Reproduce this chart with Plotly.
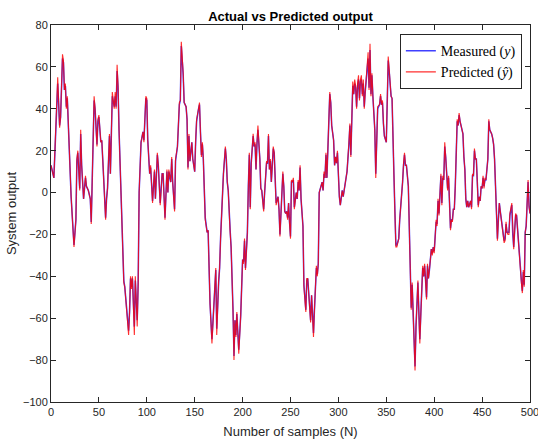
import plotly.graph_objects as go

samples = [0,3,7,9,10,12,13,14,15,16,17,19,20,21,24,26,27,28,30,31,32,34,36,37,39,41,42,45,46,48,49,50,52,53,54,56,57,58,59,61,62,64,66,67,68,69,70,71,74,76,77,79,81,82,83,84,85,87,88,90,91,92,94,96,97,99,100,101,102,103,104,106,108,109,111,112,114,116,117,119,121,122,123,125,126,127,129,130,132,134,135,136,138,139,141,142,143,144,145,147,148,150,151,152,154,155,156,157,158,159,161,163,164,165,166,168,169,170,172,173,175,176,177,179,180,182,183,184,185,187,188,190,191,192,193,194,195,196,198,199,200,201,202,203,205,206,207,208,209,211,212,213,214,215,216,218,219,220,222,223,225,226,227,228,229,230,231,232,233,234,235,237,238,239,240,241,242,243,244,245,246,247,248,249,250,251,252,253,254,256,257,258,259,260,261,263,264,266,267,268,270,271,272,274,275,277,278,279,280,282,283,284,285,286,287,288,290,291,292,293,295,296,297,298,299,300,301,302,304,305,306,307,308,309,311,312,313,314,315,316,317,318,319,320,321,322,323,324,325,326,327,328,330,331,332,333,334,335,336,338,339,340,341,343,344,345,346,347,348,350,351,352,353,355,356,357,358,359,360,361,362,363,364,366,367,368,369,370,371,373,374,375,376,377,378,379,380,381,382,383,384,385,386,388,389,390,391,392,393,394,395,396,397,398,399,400,401,402,403,404,405,406,407,408,409,410,411,412,414,415,416,417,418,419,420,421,422,423,424,425,426,427,429,430,431,432,433,434,435,436,438,439,440,441,442,443,444,445,446,447,448,449,450,451,452,453,454,456,457,458,459,460,461,462,463,464,465,466,467,468,469,470,471,472,473,474,475,476,477,478,479,481,482,483,484,485,486,487,488,489,490,491,492,493,494,495,496,497,498,499,500]

predicted = [13,7,55,31,36,66,63,49,52,40,46,18,5,-2,-26,-13,16,20,1,30,13,-3,8,3,1,-3,-15,46,40,22,35,37,24,25,16,-4,-13,-3,2,28,9,48,40,48,40,61,51,30,-13,-43,-45,-56,-68,-57,-40,-46,-40,-68,-40,-64,-43,0,24,29,24,46,45,25,13,9,13,-5,11,-3,19,13,-6,9,9,-13,11,0,11,5,17,5,-9,16,22,43,44,72,57,43,41,35,11,28,15,24,16,10,25,35,40,43,29,17,24,16,-13,-19,-18,-41,-53,-72,-59,-54,-36,-68,-42,-36,-22,1,9,22,16,5,1,-19,-26,-57,-80,-61,-69,-57,-69,-77,-59,-38,-32,-34,-22,-37,-19,3,19,-8,14,28,22,24,11,24,32,16,2,1,-9,0,15,14,28,11,16,5,16,22,19,3,-6,-2,-8,-21,-11,-2,10,3,-9,-10,-9,-13,-5,-15,-22,6,5,7,-8,0,-3,6,1,13,-3,-16,-45,-57,-41,-41,-53,-62,-49,-69,-56,-35,-40,-34,0,4,5,1,10,7,19,7,40,48,43,32,25,13,17,14,20,6,-2,-6,1,-2,1,3,7,10,24,33,17,37,53,47,54,51,40,52,56,44,54,56,46,54,40,48,62,67,49,71,46,57,46,30,7,30,41,42,47,42,44,33,27,24,41,65,59,46,45,18,8,-10,-26,-26,-23,-22,-13,-3,5,14,19,13,13,3,-15,-37,-56,-43,-61,-75,-85,-64,-51,-42,-58,-72,-59,-35,-40,-34,-42,-51,-34,-41,-37,-29,-27,-30,-26,-29,-22,-13,-16,-3,-11,0,9,-6,8,6,24,17,1,8,-4,-18,-13,-14,-8,-8,3,22,35,32,38,34,30,28,17,11,-3,-7,-4,-7,-4,-8,9,8,21,16,16,-2,-7,-2,-4,3,2,8,2,7,6,16,35,30,29,28,26,23,16,1,-11,-23,-13,-5,-9,-13,-14,-19,-24,-23,-14,-19,-20,-20,-10,-5,-21,-27,-18,-10,-11,-18,-26,-32,-38,-43,-48,-37,-45,-19,-16,-4,6,-7,-10]

measured = [13,7,52,32,36,64,62,49,51,41,45,18,5,-2,-25,-13,15,19,2,28,13,-3,7,3,1,-3,-14,44,40,23,34,36,24,25,16,-4,-12,-3,2,27,9,46,41,46,41,58,50,30,-13,-42,-45,-55,-66,-57,-41,-45,-41,-64,-42,-61,-43,0,24,29,25,45,44,25,13,9,12,-4,10,-3,18,13,-5,9,9,-12,10,0,10,5,16,5,-8,15,22,42,44,70,56,43,41,35,12,27,15,24,16,10,24,34,40,42,29,18,23,16,-12,-19,-18,-40,-53,-70,-59,-54,-37,-65,-43,-36,-22,1,9,21,16,5,1,-18,-26,-56,-78,-61,-68,-58,-68,-75,-59,-38,-32,-33,-23,-36,-19,3,18,-7,14,27,22,23,11,23,30,16,2,1,-8,0,14,14,27,11,15,5,16,21,19,3,-5,-2,-8,-20,-11,-2,9,3,-9,-10,-9,-12,-5,-14,-21,5,5,6,-7,0,-3,5,1,12,-3,-16,-44,-56,-42,-41,-53,-61,-49,-67,-56,-36,-39,-34,0,4,5,1,9,7,18,7,39,47,43,32,25,13,17,14,19,6,-2,-6,1,-2,1,3,7,10,23,32,18,36,51,47,52,50,41,51,54,45,53,54,47,52,41,48,60,64,50,68,47,56,46,30,9,30,40,42,46,42,43,33,27,24,40,63,58,46,45,18,8,-9,-25,-25,-23,-22,-13,-3,5,13,18,13,13,3,-14,-36,-55,-44,-60,-73,-83,-64,-51,-43,-57,-70,-58,-36,-40,-35,-42,-50,-35,-41,-37,-29,-27,-29,-26,-28,-22,-14,-15,-4,-10,0,8,-5,7,6,22,17,2,7,-4,-17,-13,-13,-8,-8,3,21,34,32,37,34,30,28,17,11,-3,-7,-4,-7,-4,-7,8,8,20,16,16,-2,-6,-2,-4,3,2,7,3,6,6,16,34,30,29,28,26,23,16,1,-10,-22,-13,-5,-9,-13,-14,-18,-23,-22,-15,-19,-19,-19,-11,-6,-20,-26,-18,-11,-11,-18,-25,-31,-37,-42,-47,-38,-44,-19,-16,-4,5,-6,-10]

x_ticks = [0, 50, 100, 150, 200, 250, 300, 350, 400, 450, 500]
y_ticks = [-100, -80, -60, -40, -20, 0, 20, 40, 60, 80]

SANS = "Liberation Sans, Arial, sans-serif"
INK = "#262626"

fig = go.Figure()
fig.add_trace(go.Scatter(
    x=samples, y=measured, mode="lines", name="Measured (<i>y</i>)",
    line=dict(color="#4040ff", width=1.5)))
fig.add_trace(go.Scatter(
    x=samples, y=predicted, mode="lines", name="Predicted (<i>ŷ</i>)",
    line=dict(color="#ff0000", width=1.1), opacity=0.82))

axis_common = dict(
    showgrid=False, zeroline=False, showline=True, linecolor=INK,
    linewidth=1, mirror="ticks", ticks="inside", ticklen=5,
    tickcolor=INK, tickfont=dict(family=SANS, size=11, color=INK),
    automargin=False, ticklabeloverflow="allow",
)
fig.update_xaxes(range=[0, 500], tickvals=x_ticks,
                 title=dict(text="Number of samples (N)", standoff=9,
                            font=dict(family=SANS, size=13, color=INK)),
                 **axis_common)
fig.update_yaxes(range=[-100, 80], tickvals=y_ticks,
                 title=dict(text="System output", standoff=3,
                            font=dict(family=SANS, size=13, color=INK)),
                 **axis_common)

fig.update_layout(
    width=538, height=439,
    margin=dict(l=51, r=8, t=25, b=37, autoexpand=False),
    paper_bgcolor="white", plot_bgcolor="white",
    title=dict(text="<b>Actual vs Predicted output</b>", x=0.5, xref="paper", xanchor="center",
               y=1 - 16.5 / 439, yanchor="middle",
               font=dict(family=SANS, size=13, color="black")),
    legend=dict(x=0.983, y=0.976, xanchor="right", yanchor="top",
                bgcolor="white", bordercolor=INK, borderwidth=1,
                font=dict(family="Liberation Serif, DejaVu Serif, serif", size=14, color="black"),
                tracegroupgap=0, itemwidth=30),
    showlegend=True,
)

fig.write_html(
    "out.html",
    config={"displayModeBar": False},
    post_script="document.body.style.margin='0';document.body.style.padding='0';"
                "document.body.style.overflow='hidden';",
)
